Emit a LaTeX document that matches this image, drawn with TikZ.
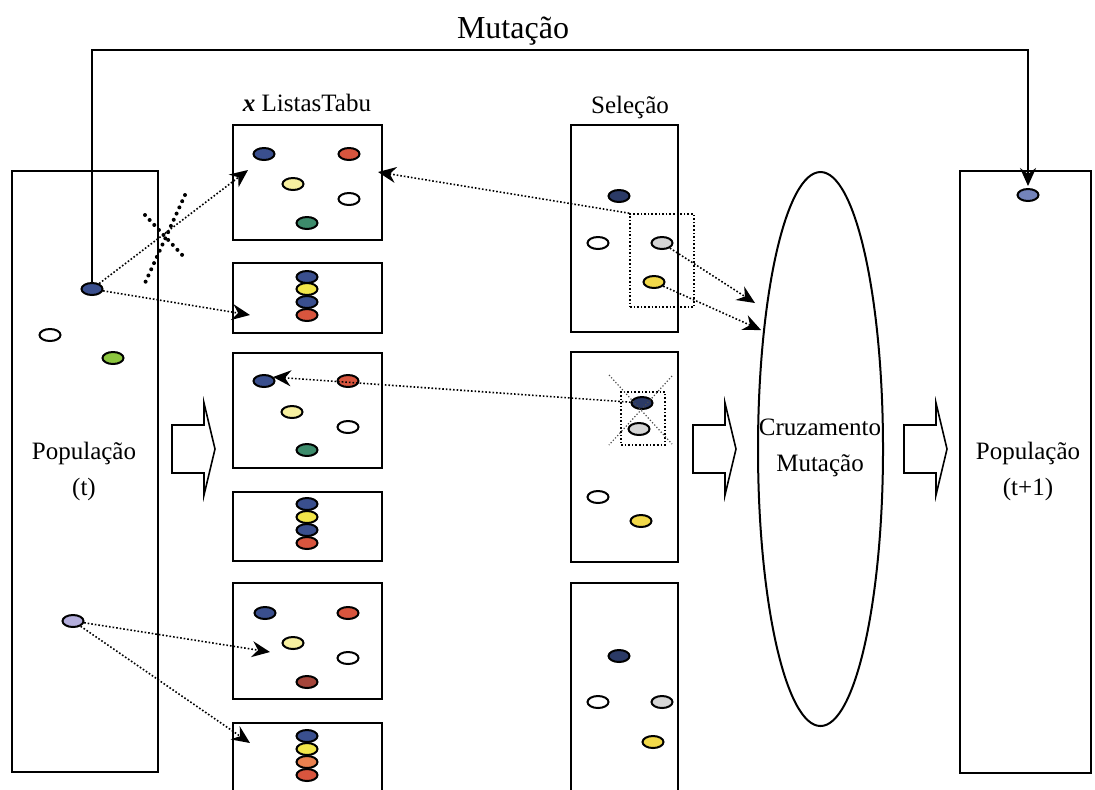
\documentclass[tikz,border=0pt]{standalone}
\usepackage{fontspec}
\setmainfont{Liberation Serif}
\usetikzlibrary{shapes.geometric, arrows.meta, fit}

% individual colours
\definecolor{cBlue}{HTML}{3A4F8E}
\definecolor{cNavy}{HTML}{2B3A66}
\definecolor{cRed}{HTML}{D8553E}
\definecolor{cPaleYellow}{HTML}{F7F0A0}
\definecolor{cYellow}{HTML}{F2E64A}
\definecolor{cGold}{HTML}{F2D94A}
\definecolor{cGreen}{HTML}{3D8C6C}
\definecolor{cLime}{HTML}{8CC63F}
\definecolor{cGrey}{HTML}{D5D5D5}
\definecolor{cLilac}{HTML}{B4AEDC}
\definecolor{cBrown}{HTML}{A5453A}
\definecolor{cOrange}{HTML}{E9814F}
\definecolor{cSlate}{HTML}{7383BA}

\tikzset{
  box/.style={draw, line width=1.3pt, inner sep=0pt},
  selrect/.style={draw, densely dotted, line width=0.8pt, inner sep=0pt},
  dot/.style={ellipse, draw, line width=1pt, minimum width=10.5pt,
              minimum height=6pt, inner sep=0pt},
  tip/.style={-{Stealth[length=9pt, width=8pt, inset=3pt]}},
  conn/.style={densely dotted, line width=0.8pt, tip},
  bigdots/.style={line width=2pt, line cap=round,
                  dash pattern=on 0pt off 3.4pt},
  thindots/.style={densely dotted, line width=0.6pt, black!70},
  lbl/.style={font=\fontsize{12.5}{18}\selectfont, align=center, inner sep=0pt},
  blockarrow/.pic={
    \draw[line width=0.8pt, fill=white]
      (0,-24) -- (32,-24) -- (32,-46) -- (43,0) -- (32,46) -- (32,24)
      -- (0,24) -- cycle;
  }
}

\begin{document}
\begin{tikzpicture}[x=0.5pt, y=-0.5pt]
\useasboundingbox (0,0) rectangle (1095,789);

% ---- titles ----
\node[lbl, font=\fontsize{16}{19}\selectfont, anchor=base] (tMut) at (513,38) {Mutação};
\node[lbl, anchor=base] (tTabu) at (307,111) {\textbf{\textit{x}} ListasTabu};
\node[lbl, anchor=base] (tSel) at (630,113) {Seleção};

% ---- population t ----
\node[box, fit={(12,171) (158,772)}] (popA) {};
\node[lbl] (popAtxt) at (84,471) {População\\(t)};

% ---- tabu lists ----
\node[box, fit={(233,125) (382,240)}] (t1) {};
\node[box, fit={(233,263) (382,333)}] (t2) {};
\node[box, fit={(233,353) (382,468)}] (t3) {};
\node[box, fit={(233,492) (382,561)}] (t4) {};
\node[box, fit={(233,583) (382,699)}] (t5) {};
\node[box, fit={(233,723) (382,805)}] (t6) {};

% ---- selection ----
\node[box, fit={(571,125) (678,332)}] (s1) {};
\node[box, fit={(571,352) (678,562)}] (s2) {};
\node[box, fit={(571,583) (678,805)}] (s3) {};

% ---- crossover / mutation ----
\node[draw, ellipse, line width=1pt, minimum width=62.5pt, minimum height=277pt,
      inner sep=0pt] (cm) at (820.5,449) {};
\node[lbl] (cmtxt) at (820,448) {Cruzamento\\Mutação};

% ---- population t+1 ----
\node[box, fit={(960,171) (1091,773)}] (popB) {};
\node[lbl] (popBtxt) at (1028,471) {População\\(t+1)};

% ---- block arrows ----
\pic at (172,449) {blockarrow};
\pic at (693,449) {blockarrow};
\pic at (904,449) {blockarrow};

% ---- individuals in population t ----
\node[dot, fill=cBlue]  (p1) at (92,289) {};
\node[dot, fill=white]  (p2) at (50,335) {};
\node[dot, fill=cLime]  (p3) at (113,358) {};
\node[dot, fill=cLilac] (p4) at (73,621) {};

% ---- tabu list contents ----
\node[dot, fill=cBlue]       (a1) at (264,154) {};
\node[dot, fill=cRed]        (a2) at (349,154) {};
\node[dot, fill=cPaleYellow] (a3) at (293,184) {};
\node[dot, fill=white]       (a4) at (349,199) {};
\node[dot, fill=cGreen]      (a5) at (307,223) {};

\node[dot, fill=cBlue]   (b1) at (307,277) {};
\node[dot, fill=cYellow] (b2) at (307,289) {};
\node[dot, fill=cBlue]   (b3) at (307,302) {};
\node[dot, fill=cRed]    (b4) at (307,315) {};

\node[dot, fill=cBlue]       (c1) at (264,381) {};
\node[dot, fill=cRed]        (c2) at (348,381) {};
\node[dot, fill=cPaleYellow] (c3) at (292,412) {};
\node[dot, fill=white]       (c4) at (348,427) {};
\node[dot, fill=cGreen]      (c5) at (307,450) {};

\node[dot, fill=cBlue]   (d1) at (307,504) {};
\node[dot, fill=cYellow] (d2) at (307,517) {};
\node[dot, fill=cBlue]   (d3) at (307,530) {};
\node[dot, fill=cRed]    (d4) at (307,543) {};

\node[dot, fill=cBlue]       (f1) at (265,613) {};
\node[dot, fill=cRed]        (f2) at (348,613) {};
\node[dot, fill=cPaleYellow] (f3) at (293,643) {};
\node[dot, fill=white]       (f4) at (348,658) {};
\node[dot, fill=cBrown]      (f5) at (307,682) {};

\node[dot, fill=cBlue]   (g1) at (307,736) {};
\node[dot, fill=cYellow] (g2) at (307,749) {};
\node[dot, fill=cOrange] (g3) at (307,762) {};
\node[dot, fill=cRed]    (g4) at (307,775) {};

% ---- selected individuals ----
\node[dot, fill=cNavy] (h1) at (619,196) {};
\node[dot, fill=white] (h2) at (598,243) {};
\node[dot, fill=cGrey] (h3) at (662,243) {};
\node[dot, fill=cGold] (h4) at (654,282) {};

\node[dot, fill=cNavy] (k1) at (642,403) {};
\node[dot, fill=cGrey] (k2) at (639,429) {};
\node[dot, fill=white] (k3) at (598,497) {};
\node[dot, fill=cGold] (k4) at (641,521) {};

\node[dot, fill=cNavy] (m1) at (619,656) {};
\node[dot, fill=white] (m2) at (598,702) {};
\node[dot, fill=cGrey] (m3) at (662,702) {};
\node[dot, fill=cGold] (m4) at (653,742) {};

\node[dot, fill=cSlate] (q1) at (1028,195) {};

% ---- pairs marked in the selection ----
\node[selrect, fit={(630,214) (694,307)}] (r1) {};
\node[selrect, fit={(621,392) (665,445)}] (r2) {};
\draw[thindots] (609,375) -- (672,444);
\draw[thindots] (672,376) -- (609,445);

% ---- arrow end points ----
\coordinate (e1) at (248,170);
\coordinate (e2) at (250,315);
\coordinate (e3) at (270,652);
\coordinate (e4) at (250,743);
\coordinate (e5) at (378,172);
\coordinate (e6) at (755,303);
\coordinate (e7) at (761,330);
\coordinate (e8) at (273,377);
\coordinate (mrow) at (0,50);

% ---- connectors ----
\draw[conn] (p1) -- (e1);
\draw[conn] (p1) -- (e2);
\draw[conn] (p4) -- (e3);
\draw[conn] (p4) -- (e4);
\draw[conn] (r1.north west) -- (e5);
\draw[conn] (h3) -- (e6);
\draw[conn] (h4) -- (e7);
\draw[conn] (k1) -- (e8);

% blocked move
\draw[bigdots] (145,215) -- (185,258);
\draw[bigdots] (185,195) -- (145,283);

% mutation path
\draw[line width=1pt, tip]
  (p1.north) -- (p1.north |- mrow) -- (q1.north |- mrow) -- ([yshift=1pt]q1.north);
\end{tikzpicture}
\end{document}
